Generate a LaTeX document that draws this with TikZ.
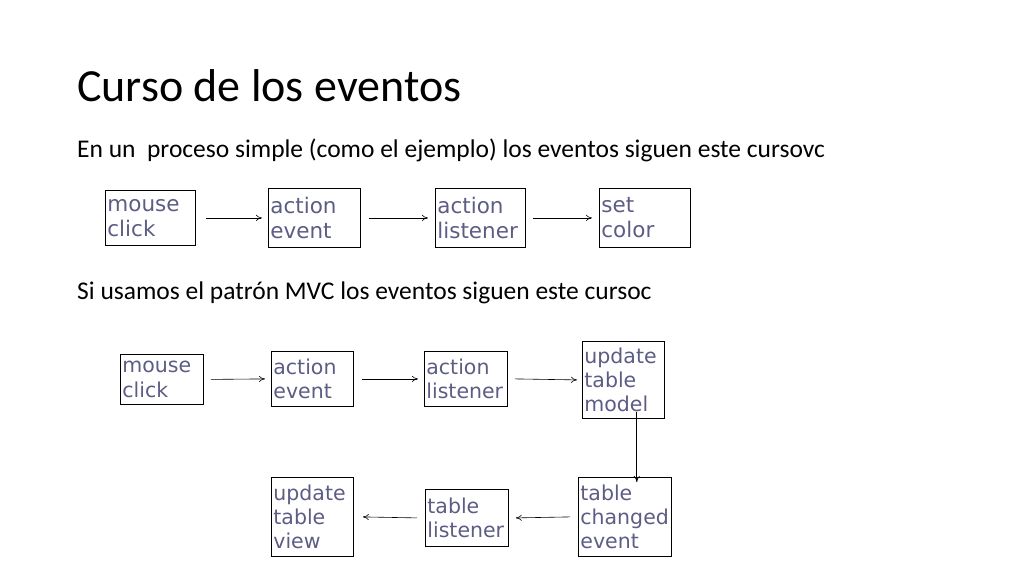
\documentclass[tikz,border=0pt]{standalone}
\usetikzlibrary{arrows.meta}
\usepackage{fontspec}
\setmainfont{Carlito}
\newfontfamily\boxfont{DejaVu Sans}
\definecolor{boxtxt}{HTML}{5C5C85}
\begin{document}
\begin{tikzpicture}[x=1pt,y=-1pt,
  bx/.style={draw,thick,inner sep=2pt,anchor=north west,align=left,font=\boxfont\fontsize{#1}{1.18\dimexpr#1pt\relax}\selectfont,text=boxtxt},
  arr/.style={-{To[length=6pt,width=6pt]},semithick}]
\useasboundingbox (0,0) rectangle (1024,576);
\node[anchor=west,inner sep=0pt,font=\fontsize{46}{54}\selectfont] (title) at (77,86) {Curso de los eventos};
\node[anchor=west,inner sep=0pt,font=\fontsize{25.5}{30}\selectfont] (t1) at (77,150) {En un\ \ proceso simple (como el ejemplo) los eventos siguen este cursovc};
\node[anchor=west,inner sep=0pt,font=\fontsize{25.5}{30}\selectfont] (t2) at (77,293) {Si usamos el patrón MVC los eventos siguen este cursoc};
% row 1
\node[bx=21.5,minimum width=90pt,minimum height=55pt,text width=86pt] (a1) at (105,190) {mouse\\click};
\node[bx=21.5,minimum width=92pt,minimum height=59pt,text width=88pt] (a2) at (268,188) {action\\event};
\node[bx=21.5,minimum width=90pt,minimum height=59pt,text width=86pt] (a3) at (435,188) {action\\listener};
\node[bx=21.5,minimum width=91pt,minimum height=59pt,text width=87pt] (a4) at (599,188) {set\\color};
\draw[arr] ([xshift=10pt]a1.east) -- ([xshift=-6pt]a2.west);
\draw[arr] ([xshift=8pt]a2.east) -- ([xshift=-7pt]a3.west);
\draw[arr] ([xshift=7pt]a3.east) -- ([xshift=-7pt]a4.west);
% row 2
\node[bx=20.5,minimum width=83pt,minimum height=50pt,text width=79pt] (b1) at (120,354) {mouse\\click};
\node[bx=20.5,minimum width=82pt,minimum height=55pt,text width=78pt] (b2) at (271,351) {action\\event};
\node[bx=20.5,minimum width=83pt,minimum height=55pt,text width=79pt] (b3) at (424,351) {action\\listener};
\node[bx=20.5,minimum width=82pt,minimum height=77pt,text width=78pt,inner sep=1pt] (b4) at (582,341) {update\\table\\model};
\draw[arr] ([xshift=7pt]b1.east) -- ([xshift=-6pt]b2.west);
\draw[arr] ([xshift=8pt]b2.east) -- ([xshift=-6pt]b3.west);
\draw[arr] ([xshift=7pt]b3.east) -- ([xshift=-5pt]b4.west);
% row 3
\node[bx=20.5,minimum width=93pt,minimum height=79pt,text width=89pt,inner sep=1pt] (c1) at (578,477) {table\\changed\\event};
\node[bx=20.5,minimum width=83pt,minimum height=57pt,text width=79pt] (c2) at (425,489) {table\\listener};
\node[bx=20.5,minimum width=82pt,minimum height=79pt,text width=78pt,inner sep=1pt] (c3) at (271,477) {update\\table\\view};
\draw[arr,thick] ([xshift=-28pt,yshift=7pt]b4.south east) -- ([xshift=-28pt,yshift=-5pt]b4.south east |- c1.north);
\draw[arr] ([xshift=-8pt]c1.west) -- ([xshift=7pt]c2.east);
\draw[arr] ([xshift=-8pt]c2.west) -- ([xshift=9pt]c3.east);
\end{tikzpicture}
\end{document}
